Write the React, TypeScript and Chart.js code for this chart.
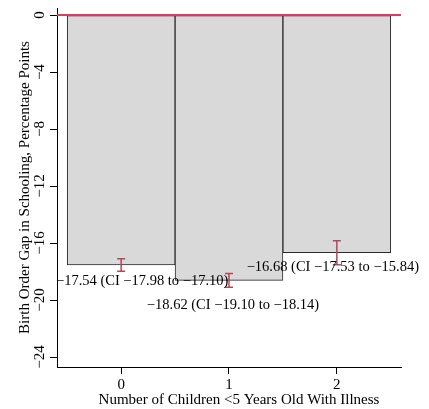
import React, { useEffect, useRef } from 'react';
import { Chart, registerables } from 'chart.js';

Chart.register(...registerables);

// Number of sick children under five in the household
const categories = [0, 1, 2];
// Birth order gap in schooling (percentage points)
const gapValues = [-17.54, -18.62, -16.68];
// 95% confidence intervals
const ciLow = [-17.98, -19.1, -17.53];
const ciHigh = [-17.1, -18.14, -15.84];
const yTicks = [0, -4, -8, -12, -16, -20, -24];
const xTicks = [0, 1, 2];
const xTitle = 'Number of Children <5 Years Old With Illness';
const yTitle = 'Birth Order Gap in Schooling, Percentage Points';

const fmt = (v: number, digits = 2) =>
  (v < 0 ? '\u2212' : '') + Math.abs(v).toFixed(digits);
const tickFmt = (v: number) => (v < 0 ? '\u2212' + Math.abs(v) : String(v));

const FONT = '"Liberation Serif", "Times New Roman", serif';

// Per-bar nudges (px) for the value/CI annotation, relative to bar centre and bar end
const labelNudge = [
  { dx: 21, dy: 16 },
  { dx: 4, dy: 24.5 },
  { dx: -4, dy: 14 },
];

const overlayPlugin = {
  id: 'overlay',
  afterDatasetsDraw(chart: any) {
    const { ctx, chartArea, scales } = chart;
    const x = scales.x;
    const y = scales.y;
    ctx.save();

    // reference line at zero
    ctx.strokeStyle = '#dc3c64';
    ctx.lineWidth = 2;
    ctx.beginPath();
    const y0 = y.getPixelForValue(0);
    ctx.moveTo(chartArea.left, y0);
    ctx.lineTo(chartArea.right, y0);
    ctx.stroke();

    // confidence interval whiskers
    ctx.strokeStyle = '#b04a5a';
    ctx.lineWidth = 1.5;
    categories.forEach((c, i) => {
      const px = x.getPixelForValue(c);
      const yLo = y.getPixelForValue(ciLow[i]);
      const yHi = y.getPixelForValue(ciHigh[i]);
      const cap = 4;
      ctx.beginPath();
      ctx.moveTo(px, yLo);
      ctx.lineTo(px, yHi);
      ctx.moveTo(px - cap, yLo);
      ctx.lineTo(px + cap, yLo);
      ctx.moveTo(px - cap, yHi);
      ctx.lineTo(px + cap, yHi);
      ctx.stroke();
    });

    // value annotations
    ctx.fillStyle = '#000';
    ctx.font = `14.5px ${FONT}`;
    ctx.textAlign = 'center';
    ctx.textBaseline = 'middle';
    categories.forEach((c, i) => {
      const px = x.getPixelForValue(c) + labelNudge[i].dx;
      const py = y.getPixelForValue(gapValues[i]) + labelNudge[i].dy;
      const text = `${fmt(gapValues[i])} (CI ${fmt(ciLow[i])} to ${fmt(ciHigh[i])})`;
      ctx.fillText(text, px, py);
    });

    // x-axis title, sitting slightly right of the plot centre
    ctx.font = `15px ${FONT}`;
    ctx.fillText(xTitle, (chartArea.left + chartArea.right) / 2 + 10, x.bottom - 9);
    ctx.restore();
  },
};

export default function App() {
  const canvasRef = useRef<HTMLCanvasElement | null>(null);

  useEffect(() => {
    document.body.style.margin = '0';
    const canvas = canvasRef.current;
    if (!canvas) return;
    Chart.defaults.font.family = FONT;
    Chart.defaults.font.size = 15;
    Chart.defaults.color = '#000';

    const chart = new Chart(canvas, {
      type: 'bar',
      data: {
        datasets: [
          {
            data: categories.map((c, i) => ({ x: c, y: gapValues[i] })),
            backgroundColor: '#d9d9d9',
            borderColor: '#2b2b2b',
            borderWidth: 1,
            borderSkipped: false,
            barPercentage: 1,
            categoryPercentage: 1,
          },
        ],
      },
      options: {
        responsive: false,
        animation: false,
        events: [],
        layout: { padding: { top: 8, right: 28, left: 0, bottom: 0 } },
        plugins: {
          legend: { display: false },
          tooltip: { enabled: false },
        },
        scales: {
          x: {
            type: 'linear',
            min: -0.595,
            max: 2.595,
            offset: false,
            afterBuildTicks: (s: any) => {
              s.ticks = xTicks.map((v) => ({ value: v }));
            },
            afterFit: (s: any) => {
              s.height = 42;
            },
            ticks: {
              color: '#000',
              font: { size: 15, family: FONT },
              padding: 2,
              maxRotation: 0,
              autoSkip: false,
              callback: (v: any) => String(v),
            },
            grid: {
              offset: false,
              drawOnChartArea: false,
              drawTicks: true,
              tickLength: 7,
              tickColor: '#000',
              tickWidth: 1,
            },
            border: { display: true, color: '#000', width: 1 },
            title: { display: false },
          },
          y: {
            type: 'linear',
            min: -24.7,
            max: 0.5,
            afterBuildTicks: (s: any) => {
              s.ticks = yTicks.map((v) => ({ value: v }));
            },
            afterFit: (s: any) => {
              s.width = 57;
            },
            ticks: {
              color: '#000',
              font: { size: 15, family: FONT },
              minRotation: 90,
              maxRotation: 90,
              crossAlign: 'center',
              padding: -2,
              autoSkip: false,
              callback: (v: any) => tickFmt(Number(v)),
            },
            grid: {
              drawOnChartArea: false,
              drawTicks: true,
              tickLength: 7,
              tickColor: '#000',
              tickWidth: 1,
            },
            border: { display: true, color: '#000', width: 1 },
            title: {
              display: true,
              text: yTitle,
              color: '#000',
              font: { size: 15, family: FONT },
              padding: { top: 16, bottom: 0 },
            },
          },
        },
      },
      plugins: [overlayPlugin],
    } as any);

    return () => chart.destroy();
  }, []);

  return (
    <div style={{ position: 'fixed', left: 0, top: 0, width: 429, height: 409 }}>
      <canvas ref={canvasRef} width={429} height={409} style={{ display: 'block' }} />
    </div>
  );
}
